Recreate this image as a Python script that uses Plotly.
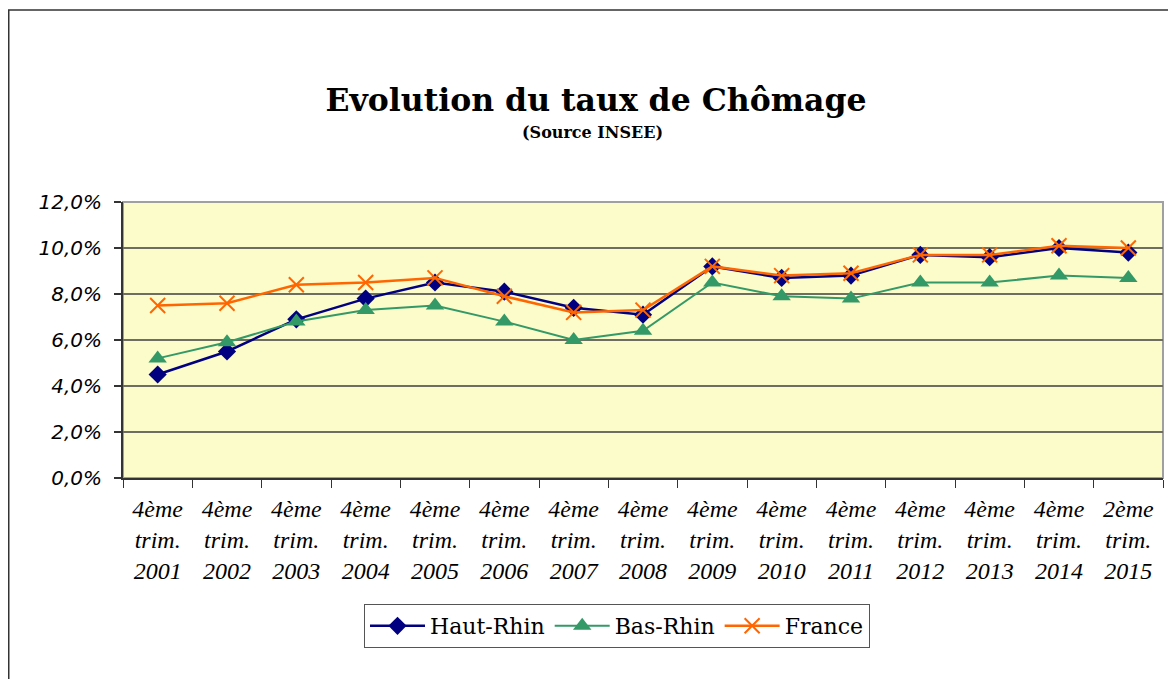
import plotly.graph_objects as go

categories = ["4ème trim. 2001", "4ème trim. 2002", "4ème trim. 2003", "4ème trim. 2004",
              "4ème trim. 2005", "4ème trim. 2006", "4ème trim. 2007", "4ème trim. 2008",
              "4ème trim. 2009", "4ème trim. 2010", "4ème trim. 2011", "4ème trim. 2012",
              "4ème trim. 2013", "4ème trim. 2014", "2ème trim. 2015"]

haut_rhin = [4.5, 5.5, 6.9, 7.8, 8.5, 8.1, 7.4, 7.1, 9.2, 8.7, 8.8, 9.7, 9.6, 10.0, 9.8]
bas_rhin = [5.2, 5.9, 6.8, 7.3, 7.5, 6.8, 6.0, 6.4, 8.5, 7.9, 7.8, 8.5, 8.5, 8.8, 8.7]
france = [7.5, 7.6, 8.4, 8.5, 8.7, 7.9, 7.2, 7.3, 9.2, 8.8, 8.9, 9.7, 9.7, 10.1, 10.0]

y_ticks = [0, 2, 4, 6, 8, 10, 12]

def pct(v):
    return [x / 100 for x in v]

def tick_label(c):
    return "<br>".join(c.split(" "))

# page body has an 8px margin: figure coords = window coords - 8
W, H = 1176, 679
L, R, T, B = 115, 21, 194, 209
pw = W - L - R
ph = H - T - B

fig = go.Figure()
fig.add_trace(go.Scatter(x=categories, y=pct(haut_rhin), name="Haut-Rhin", mode="lines+markers",
                         line=dict(color="#000080", width=2.5),
                         marker=dict(symbol="diamond", size=14, color="#000080")))
fig.add_trace(go.Scatter(x=categories, y=pct(bas_rhin), name="Bas-Rhin", mode="lines+markers",
                         line=dict(color="#339966", width=2),
                         marker=dict(symbol="triangle-up", size=16, color="#339966")))
fig.add_trace(go.Scatter(x=categories, y=pct(france), name="France", mode="lines+markers",
                         line=dict(color="#FF6600", width=2.5),
                         marker=dict(symbol="x-thin", size=15, color="#FF6600",
                                     line=dict(color="#FF6600", width=2))))

# outer frame (chart border) and plot-area border
fig.add_shape(type="rect", xref="paper", yref="paper",
              x0=(0.75 - L) / pw, x1=(W + 10 - L) / pw,
              y0=-(H + 10 - (T + ph)) / ph, y1=(T + ph - 2) / ph,
              line=dict(color="#333333", width=1.5), layer="below")
fig.add_shape(type="rect", xref="paper", yref="paper", x0=0, x1=1, y0=0, y1=1,
              line=dict(color="#A0A0A0", width=2), layer="below")

fig.update_layout(
    width=W, height=H,
    margin=dict(l=L, r=R, t=T, b=B),
    paper_bgcolor="white",
    plot_bgcolor="#FCFBCA",
    separators=", ",
    showlegend=True,
    title=dict(text="<b>Evolution du taux de Chômage</b>",
               font=dict(family="DejaVu Serif", size=31.5, color="black"),
               x=588 / W, xanchor="center", y=1 - 92 / H, yanchor="middle", yref="container"),
    legend=dict(orientation="h", x=609 / W, xref="container", xanchor="center",
                y=1 - 618 / H, yref="container", yanchor="middle",
                font=dict(family="DejaVu Serif", size=22, color="black"),
                bordercolor="#555555", borderwidth=1, bgcolor="white",
                itemwidth=55, tracegroupgap=0),
    xaxis=dict(type="category", range=[-0.5, 14.5], tickson="boundaries",
               ticks="outside", ticklen=8, tickcolor="#333333", tickwidth=1,
               showline=True, linecolor="#333333", linewidth=2,
               showgrid=False, zeroline=False,
               tickmode="array", tickvals=categories,
               ticktext=[tick_label(c) for c in categories],
               tickfont=dict(family="Liberation Serif", size=24, color="black", style="italic"),
               ticklabelstandoff=8),
    yaxis=dict(range=[0, 0.12], tickmode="array", tickvals=pct(y_ticks), tickformat=".1%",
               ticks="outside", ticklen=7, tickcolor="#333333", tickwidth=1.5,
               showline=True, linecolor="#333333", linewidth=2,
               showgrid=True, gridcolor="#6E6E60", gridwidth=1.5, zeroline=False,
               tickfont=dict(family="DejaVu Sans", size=20, color="black", style="italic"),
               ticklabelstandoff=8),
)

fig.add_annotation(text="<b>(Source INSEE)</b>", xref="paper", yref="paper",
                   x=(584 - L) / pw, y=(T + ph - 124) / ph, showarrow=False,
                   font=dict(family="DejaVu Serif", size=16, color="black"),
                   xanchor="center", yanchor="middle")

fig.write_html("out.html")
